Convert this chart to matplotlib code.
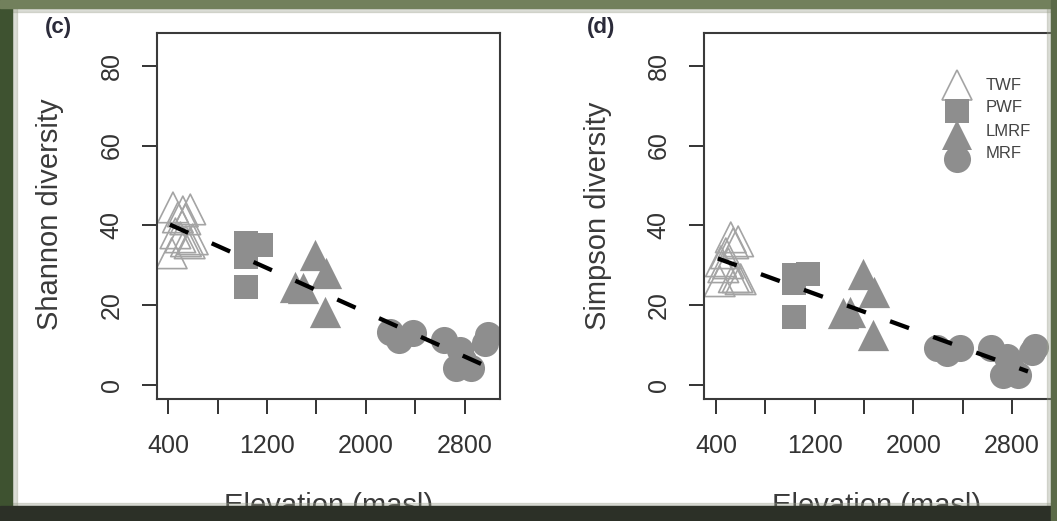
import matplotlib
matplotlib.use("Agg")
import matplotlib.pyplot as plt
from matplotlib.patches import Rectangle

plt.rcParams['font.family'] = ['Liberation Sans', 'DejaVu Sans']
plt.rcParams['lines.scale_dashes'] = False

# data (elevation in masl)
elev_twf = [440, 520, 580, 480, 540, 460, 500, 545, 575, 600, 430]
shannon_twf = [44.5, 43.5, 44, 42, 41.5, 38, 37, 36, 35.5, 36.5, 33]
simpson_twf = [31, 37, 36, 33, 35.5, 29.5, 30.5, 27, 27, 26.5, 26]

elev_pwf = [1030, 1150, 1030, 1030]
shannon_pwf = [35.5, 35, 32.2, 24.6]
simpson_pwf = [27.5, 27.8, 25.5, 17.1]

elev_lmrf = [1430, 1490, 1590, 1680, 1670]
shannon_lmrf = [24.5, 24.3, 32.6, 28, 18.4]
simpson_lmrf = [18, 18.3, 27.8, 23.4, 12.5]

elev_mrf = [2190, 2270, 2380, 2630, 2760, 2730, 2850, 2785, 2985, 2960]
shannon_mrf = [13.4, 11.3, 13, 11.3, 8.8, 4.2, 4.2, 6.3, 12.5, 10.5]
simpson_mrf = [9.2, 7.9, 9.2, 9.2, 7.1, 2.5, 2.5, 5, 9.6, 8.4]

fit_x = [415, 2930]
fit_shannon = [40.2, 5.3]
fit_simpson = [31.7, 3.4]

groups = ['TWF', 'PWF', 'LMRF', 'MRF']
xticks = [400, 800, 1200, 1600, 2000, 2400, 2800]
xticklabels = ['400', '', '1200', '', '2000', '', '2800']
yticks = [0, 20, 40, 60, 80]

gray = '#8e8e8e'
open_gray = '#a4a4a4'
txt = '#333333'

W, H = 1057, 521
fig = plt.figure(figsize=(W / 100, H / 100), dpi=100)
fig.patch.set_facecolor('white')


def px_axes(l, t, r, b):
    return fig.add_axes([l / W, 1 - b / H, (r - l) / W, (b - t) / H])


def panel(ax, ys, fit_y, xlim):
    ax.scatter(elev_twf, ys[0], marker='^', s=22**2, facecolors='none',
               edgecolors=open_gray, linewidths=1.2, zorder=2)
    ax.scatter(elev_pwf, ys[1], marker='s', s=17.5**2, color=gray, linewidths=0, zorder=2)
    ax.scatter(elev_lmrf, ys[2], marker='^', s=22.5**2, color=gray, linewidths=0, zorder=2)
    ax.scatter(elev_mrf, ys[3], marker='o', s=19.5**2, color=gray, linewidths=0, zorder=2)
    ax.plot(fit_x, fit_y, color='black', lw=3.1, dashes=[14.5, 18.5],
            dash_capstyle='butt', zorder=3)
    ax.set_xlim(*xlim)
    ax.set_ylim(-3.5, 88.2)
    ax.set_xticks(xticks)
    ax.set_xticklabels(xticklabels)
    ax.set_yticks(yticks)
    ax.set_yticklabels([str(v) for v in yticks], rotation=90, va='center')
    ax.tick_params(direction='out', length=11, width=1.4, color='#333333',
                   labelsize=18, labelcolor=txt)
    ax.tick_params(axis='x', pad=14)
    ax.tick_params(axis='y', pad=13)
    for sp in ax.spines.values():
        sp.set_linewidth(1.5)
        sp.set_color('#3a3a3a')


ax1 = px_axes(157, 33, 500, 399)
panel(ax1, [shannon_twf, shannon_pwf, shannon_lmrf, shannon_mrf], fit_shannon, (311, 3083))

ax2 = px_axes(704, 33, 1062, 399)
panel(ax2, [simpson_twf, simpson_pwf, simpson_lmrf, simpson_mrf], fit_simpson, (303, 3206))

# axis labels
fig.text(50 / W, 1 - 214 / H, 'Shannon diversity', rotation=90, ha='center', va='center',
         fontsize=21, color='#3a3a3a')
fig.text(598 / W, 1 - 216 / H, 'Simpson diversity', rotation=90, ha='center', va='center',
         fontsize=21, color='#3a3a3a')
fig.text(329 / W, 1 - 514 / H, 'Elevation (masl)', ha='center', va='baseline',
         fontsize=21, color='#3a3a3a')
fig.text(877 / W, 1 - 514 / H, 'Elevation (masl)', ha='center', va='baseline',
         fontsize=21, color='#3a3a3a')

# panel letters
fig.text(58 / W, 1 - 28 / H, '(c)', ha='center', va='center', fontsize=16,
         fontweight='bold', color='#2b2b3a')
fig.text(601 / W, 1 - 28 / H, '(d)', ha='center', va='center', fontsize=16,
         fontweight='bold', color='#2b2b3a')

# legend on panel d, drawn by hand like the R legend
leg_marker = [('^', 'none', open_gray), ('s', gray, gray), ('^', gray, gray), ('o', gray, gray)]
leg_my = [85, 111, 135, 159]
leg_ty = [86, 108, 131, 154]
for (m, fc, ec), g, my, ty in zip(leg_marker, groups, leg_my, leg_ty):
    sz = {'^': 22, 's': 17.5, 'o': 19.5}[m]
    fig.add_artist(plt.Line2D([957 / W], [1 - my / H], marker=m, markersize=sz,
                              markerfacecolor=fc, markeredgecolor=ec,
                              markeredgewidth=1.2 if fc == 'none' else 0,
                              linestyle='none', transform=fig.transFigure))
    fig.text(986 / W, 1 - ty / H, g, ha='left', va='center', fontsize=12, color='#444444')

# dark photo frame round the figure
frame = [
    (0, 0, 12, H, '#3e5230'),
    (0, 0, W, 8, '#72805c'),
    (0, 506, W, 15, '#2c3027'),
    (1051, 0, 6, H, '#5b6a48'),
]
for x, y, w, h, c in frame:
    fig.add_artist(Rectangle((x / W, 1 - (y + h) / H), w / W, h / H, color=c,
                             transform=fig.transFigure, zorder=10))
soft = [
    (12, 0, 5, H),
    (0, 8, W, 4),
    (0, 503, W, 3),
    (1047, 0, 4, H),
]
for x, y, w, h in soft:
    fig.add_artist(Rectangle((x / W, 1 - (y + h) / H), w / W, h / H, color='#9aa08c',
                             alpha=0.35, transform=fig.transFigure, zorder=9))

fig.savefig('out.png', dpi=100)
